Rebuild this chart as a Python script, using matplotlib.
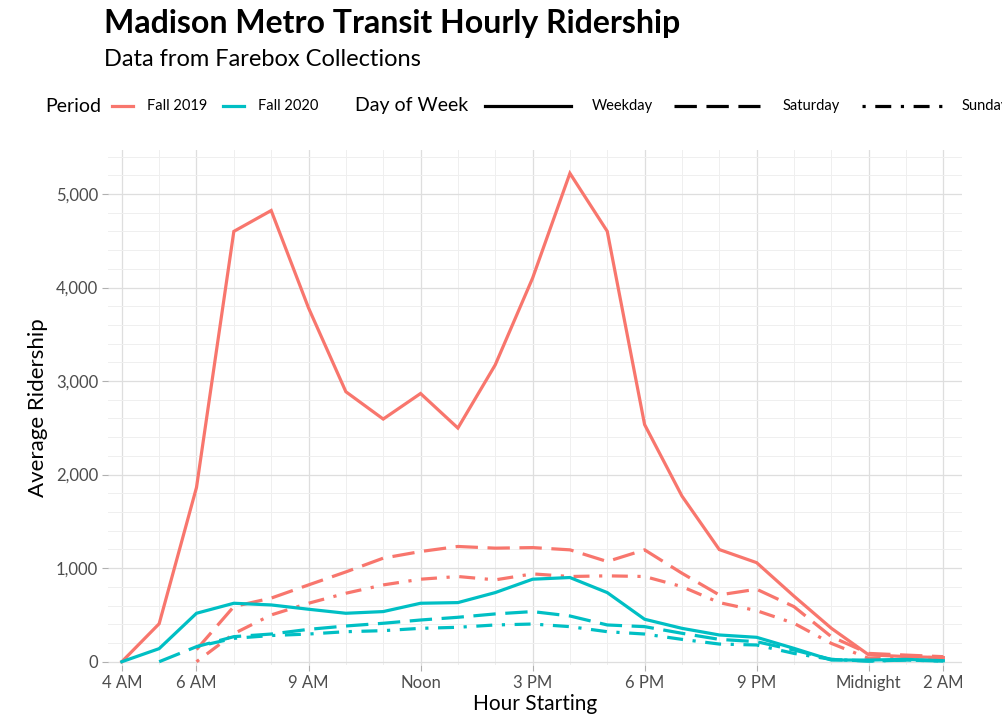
import matplotlib
matplotlib.use("Agg")
import matplotlib.pyplot as plt
from matplotlib.lines import Line2D
from matplotlib.ticker import FuncFormatter, MultipleLocator

plt.rcParams["font.family"] = ["Lato", "DejaVu Sans"]

# --------------------------
# Data
# --------------------------
hours_weekday = list(range(4, 27))      # 4 AM .. 2 AM next day
hours_sat_2020 = list(range(5, 27))
hours_from_6 = list(range(6, 27))

fall2019_weekday = [0, 406, 1863, 4600, 4823, 3782, 2886, 2594, 2867, 2498, 3173, 4100,
                    5221, 4601, 2535, 1771, 1199, 1059, 701, 358, 74, 55, 44]
fall2019_saturday = [130, 590, 680, 821, 960, 1107, 1178, 1232, 1214, 1220, 1196, 1071,
                     1196, 946, 714, 775, 589, 268, 89, 71, 54]
fall2019_sunday = [0, 300, 500, 625, 732, 821, 882, 911, 875, 939, 911, 918,
                   911, 803, 632, 546, 411, 196, 36, 61, 36]

fall2020_weekday = [0, 140, 518, 625, 607, 561, 518, 536, 625, 632, 739, 882,
                    900, 739, 454, 357, 286, 261, 143, 18, 18, 25, 11]
fall2020_saturday = [0, 161, 268, 296, 346, 382, 411, 446, 475, 511, 536, 489,
                     393, 375, 304, 239, 214, 125, 25, 7, 18, 7]
fall2020_sunday = [160, 250, 280, 296, 321, 332, 357, 368, 393, 403, 375, 321,
                   296, 239, 189, 179, 89, 25, 7, 18, 7]

tick_hours = [4, 6, 9, 12, 15, 18, 21, 24, 26]
tick_labels = ["4 AM", "6 AM", "9 AM", "Noon", "3 PM", "6 PM", "9 PM", "Midnight", "2 AM"]

RED = "#F8766D"
TEAL = "#00BFC4"
LW = 2.3
STYLES = {
    "Weekday": "-",
    "Saturday": (0, (7, 3)),
    "Sunday": (0, (1, 3, 5, 3)),
}

# --------------------------
# Figure
# --------------------------
W, H = 1003, 715
fig = plt.figure(figsize=(W / 100, H / 100), dpi=100)
ax = fig.add_axes([108 / W, 1 - 665 / H, (962 - 108) / W, (665 - 150) / H])

series = [
    (hours_weekday, fall2019_weekday, RED, "Weekday"),
    (hours_from_6, fall2019_saturday, RED, "Saturday"),
    (hours_from_6, fall2019_sunday, RED, "Sunday"),
    (hours_weekday, fall2020_weekday, TEAL, "Weekday"),
    (hours_sat_2020, fall2020_saturday, TEAL, "Saturday"),
    (hours_from_6, fall2020_sunday, TEAL, "Sunday"),
]
for x, y, c, day in series:
    ax.plot(x, y, color=c, lw=LW, linestyle=STYLES[day],
            solid_joinstyle="miter", dash_capstyle="butt")

ax.set_xlim(3.63, 26.5)
ax.set_ylim(-35, 5470)

ax.set_xticks(tick_hours)
ax.set_xticklabels(tick_labels)
ax.xaxis.set_minor_locator(MultipleLocator(1))
ax.yaxis.set_major_locator(MultipleLocator(1000))
ax.yaxis.set_minor_locator(MultipleLocator(200))
ax.yaxis.set_major_formatter(FuncFormatter(lambda v, p: f"{int(v):,}"))

ax.grid(which="major", color="#dedede", lw=0.9)
ax.grid(which="minor", color="#efefef", lw=0.7)
ax.set_axisbelow(True)
for s in ax.spines.values():
    s.set_visible(False)

ax.tick_params(which="major", length=4, width=0.8, color="#b0b0b0",
               labelsize=12, labelcolor="#4d4d4d", pad=3)
ax.tick_params(which="minor", length=0)

ax.set_xlabel("Hour Starting", fontsize=15, labelpad=2)
ax.set_ylabel("Average Ridership", fontsize=16, labelpad=6)

# --------------------------
# Titles
# --------------------------
fig.text(104 / W, 1 - 23 / H, "Madison Metro Transit Hourly Ridership",
         fontsize=23, fontweight="bold", va="center", ha="left")
fig.text(104 / W, 1 - 59 / H, "Data from Farebox Collections",
         fontsize=17, va="center", ha="left")

# --------------------------
# Legend row (drawn by hand, runs off the right edge like the original)
# --------------------------
ly = 1 - 106 / H
fig.text(45 / W, ly, "Period", fontsize=14, va="center")
for x0, c, lab in [(112, RED, "Fall 2019"), (223, TEAL, "Fall 2020")]:
    fig.add_artist(Line2D([x0 / W, (x0 + 21) / W], [ly, ly], color=c, lw=LW,
                          transform=fig.transFigure))
    fig.text((x0 + 35) / W, ly, lab, fontsize=10.5, va="center")

fig.text(355 / W, ly, "Day of Week", fontsize=14, va="center")
for x0, xt, day in [(485, 592, "Weekday"), (674, 783, "Saturday"), (862, 962, "Sunday")]:
    fig.add_artist(Line2D([x0 / W, (x0 + 86) / W], [ly, ly], color="black", lw=LW,
                          linestyle=STYLES[day], dash_capstyle="butt",
                          transform=fig.transFigure))
    fig.text(xt / W, ly, day, fontsize=10.5, va="center")

fig.savefig("out.png", dpi=100)
